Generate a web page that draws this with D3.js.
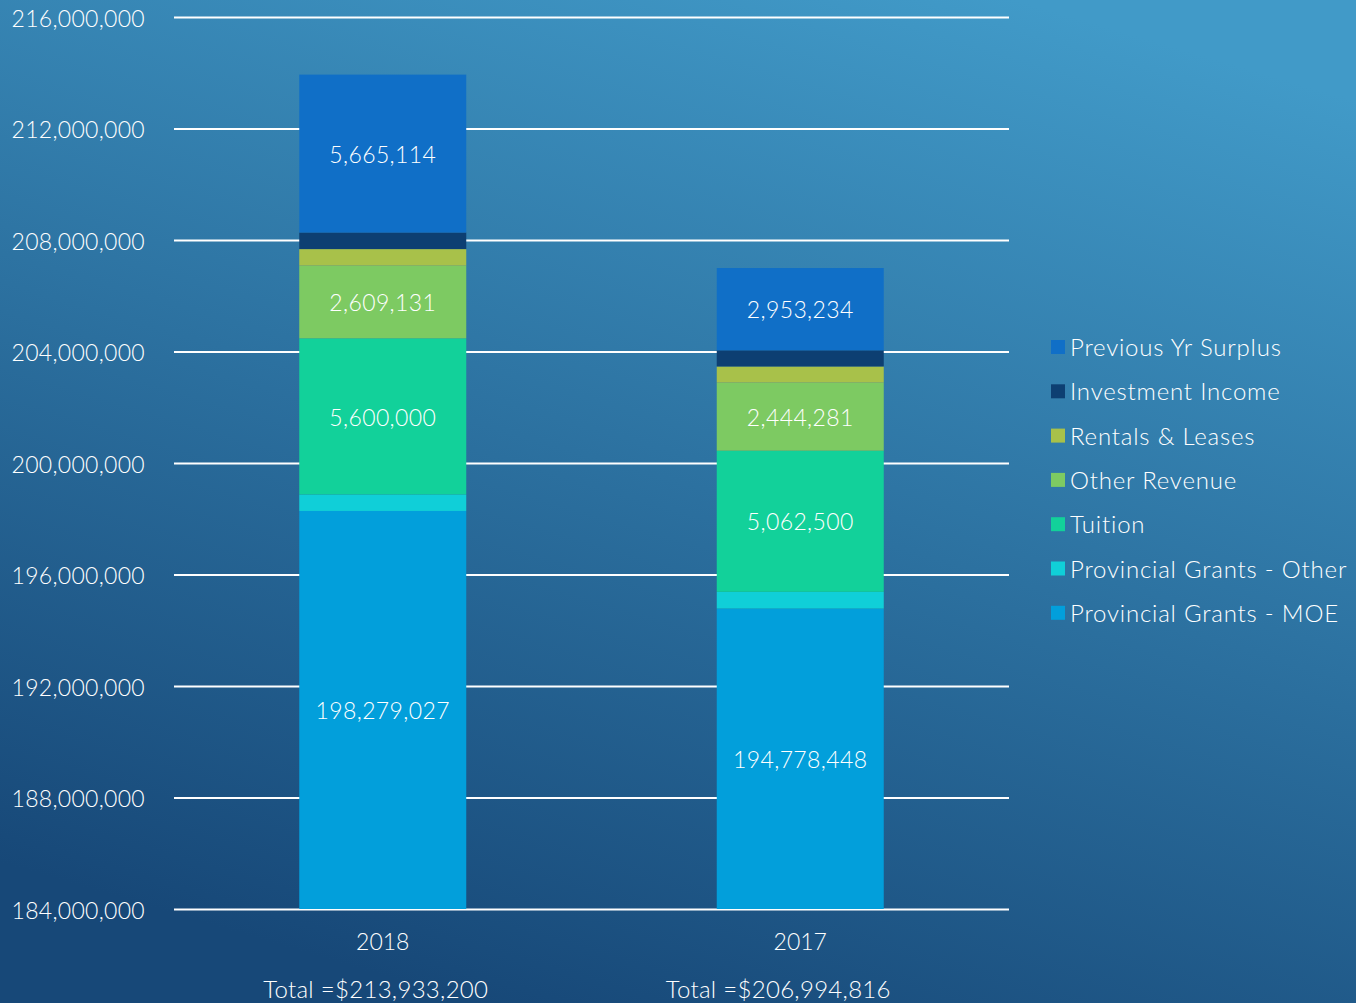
<!DOCTYPE html>
<html>
<head>
<meta charset="utf-8">
<script src="https://cdn.jsdelivr.net/npm/d3@7"></script>
<style>
  body { margin: 0; overflow: hidden; }
  svg text { font-family: "Lato", sans-serif; font-weight: 300; fill: #ffffff; }
</style>
</head>
<body>
<div class="chart"></div>
<script>
var svgWidth = 1356;
var svgHeight = 1003;

// data
var years = ["2018", "2017"];
var totals = ["Total =$213,933,200", "Total =$206,994,816"];
var seriesNames = ["Provincial Grants - MOE", "Provincial Grants - Other", "Tuition",
  "Other Revenue", "Rentals & Leases", "Investment Income", "Previous Yr Surplus"];
var moe = [198279027, 194778448];
var provOther = [593000, 600000];
var tuition = [5600000, 5062500];
var otherRevenue = [2609131, 2444281];
var rentals = [593000, 578000];
var investment = [593928, 578353];
var surplus = [5665114, 2953234];
var yTicks = [184000000, 188000000, 192000000, 196000000, 200000000, 204000000, 208000000, 212000000, 216000000];
var colors = ["#029fdb", "#10cfd8", "#12d19a", "#7dca62", "#a8c14a", "#0d3f72", "#106fc7"];
var labelled = [true, false, true, true, false, false, true];

var seriesValues = [moe, provOther, tuition, otherRevenue, rentals, investment, surplus];

// the total captions sit a little left of the bar centres
var totalShift = [-7, -22];

var margin = { top: 17, left: 174, right: 347, bottom: 94 };
var width = svgWidth - margin.left - margin.right;
var height = svgHeight - margin.top - margin.bottom;

var svg = d3.select(".chart").append("svg")
  .attr("width", svgWidth)
  .attr("height", svgHeight);

// background gradient
var defs = svg.append("defs");
var grad = defs.append("linearGradient")
  .attr("id", "bg")
  .attr("x1", "75%").attr("y1", "0%")
  .attr("x2", "35%").attr("y2", "100%");
grad.append("stop").attr("offset", "0%").attr("stop-color", "#419ac8");
grad.append("stop").attr("offset", "100%").attr("stop-color", "#174878");
svg.append("rect").attr("width", svgWidth).attr("height", svgHeight).attr("fill", "url(#bg)");

var chartGroup = svg.append("g")
  .attr("transform", `translate(${margin.left}, ${margin.top})`);

var x = d3.scaleBand()
  .domain(years)
  .range([0, width])
  .paddingInner(0.6)
  .paddingOuter(0.3);

// clamp so the bottom segment stops at the axis floor
var y = d3.scaleLinear()
  .domain([184000000, 216000000])
  .range([height, 0])
  .clamp(true);

// grid lines
var leftAxis = d3.axisLeft(y)
  .tickValues(yTicks)
  .tickSize(-width)
  .tickPadding(29)
  .tickFormat(d3.format(","));

var yAxis = chartGroup.append("g").call(leftAxis);
yAxis.select(".domain").remove();
yAxis.selectAll("line").attr("stroke", "#ffffff").attr("stroke-width", 2);
yAxis.selectAll("text")
  .attr("fill", "#ffffff")
  .attr("dy", "0.4em")
  .style("font-size", "23px")
  .style("letter-spacing", "0.3px")
  .style("font-family", "Lato, sans-serif")
  .style("font-weight", 300);

// stack the series
var rows = years.map(function(yr, i) {
  var row = { year: yr };
  seriesNames.forEach(function(s, j) { row[s] = seriesValues[j][i]; });
  return row;
});
var stacked = d3.stack().keys(seriesNames)(rows);

var layers = chartGroup.selectAll(".layer")
  .data(stacked)
  .enter().append("g")
  .attr("class", "layer")
  .attr("fill", (d, i) => colors[i]);

layers.selectAll("rect")
  .data(d => d)
  .enter().append("rect")
  .attr("x", d => x(d.data.year))
  .attr("width", x.bandwidth())
  .attr("y", d => y(d[1]))
  .attr("height", d => y(d[0]) - y(d[1]));

// value labels
layers.filter((d, i) => labelled[i])
  .selectAll("text")
  .data(d => d)
  .enter().append("text")
  .attr("x", d => x(d.data.year) + x.bandwidth() / 2)
  .attr("y", d => (y(d[0]) + y(d[1])) / 2)
  .attr("dy", ".4em")
  .attr("text-anchor", "middle")
  .style("font-size", "23px")
  .style("letter-spacing", "0.4px")
  .text(function(d) {
    var key = d3.select(this.parentNode).datum().key;
    return d3.format(",")(d.data[key]);
  });

// year labels + totals
chartGroup.selectAll(".year")
  .data(years)
  .enter().append("text")
  .attr("x", d => x(d) + x.bandwidth() / 2)
  .attr("y", height + 41)
  .attr("text-anchor", "middle")
  .style("font-size", "23px")
  .text(d => d);

chartGroup.selectAll(".total")
  .data(totals)
  .enter().append("text")
  .attr("x", (d, i) => x(years[i]) + x.bandwidth() / 2 + totalShift[i])
  .attr("y", height + 89)
  .attr("text-anchor", "middle")
  .style("font-size", "24px")
  .style("letter-spacing", "0.3px")
  .text(d => d);

// legend (top to bottom: reverse of stack order)
var legendNames = seriesNames.slice().reverse();
var legendColors = colors.slice().reverse();
var legend = svg.append("g").attr("transform", "translate(1051, 347)");
var item = legend.selectAll(".item")
  .data(legendNames)
  .enter().append("g")
  .attr("transform", (d, i) => `translate(0, ${i * 44.3})`);
item.append("rect")
  .attr("x", 0).attr("y", -7)
  .attr("width", 14).attr("height", 14)
  .attr("fill", (d, i) => legendColors[i]);
item.append("text")
  .attr("x", 19)
  .attr("dy", ".38em")
  .style("font-size", "24px")
  .style("letter-spacing", "0.8px")
  .text(d => d);
</script>
</body>
</html>
